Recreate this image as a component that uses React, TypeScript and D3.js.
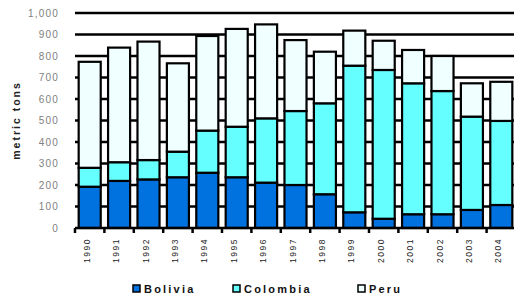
import { useEffect, useRef } from 'react'
import * as d3 from 'd3'

const years = ['1990', '1991', '1992', '1993', '1994', '1995', '1996', '1997', '1998', '1999', '2000', '2001', '2002', '2003', '2004']
const bolivia = [192, 219, 226, 236, 257, 236, 211, 200, 157, 73, 43, 64, 64, 84, 107]
const colombia = [88, 87, 90, 119, 196, 235, 299, 344, 423, 682, 692, 609, 573, 434, 391]
const peru = [493, 533, 551, 411, 440, 455, 437, 330, 240, 163, 136, 155, 163, 155, 182]
const yTicks = [0, 100, 200, 300, 400, 500, 600, 700, 800, 900, 1000]
const seriesNames = ['Bolivia', 'Colombia', 'Peru']
const seriesColors = ['#0072e0', '#66ffff', '#f0ffff']

export default function App() {
  const svgRef = useRef<SVGSVGElement>(null)

  useEffect(() => {
    if (!svgRef.current) return
    const svg = d3.select(svgRef.current)
    svg.selectAll('*').remove()

    const left = 75
    const right = 516
    const top = 13
    const bottom = 228

    const rows = years.map((y, i) => ({ year: y, Bolivia: bolivia[i], Colombia: colombia[i], Peru: peru[i] }))

    const x = d3.scaleBand().domain(years).range([left, right]).paddingInner(0.25).paddingOuter(0.125)
    const y = d3.scaleLinear().domain([0, 1000]).range([bottom, top])
    const color = d3.scaleOrdinal<string>().domain(seriesNames).range(seriesColors)

    // grid lines (behind bars)
    svg.append('g')
      .selectAll('line')
      .data(yTicks.filter(d => d > 0))
      .enter().append('line')
      .attr('x1', left)
      .attr('x2', 514)
      .attr('y1', d => y(d))
      .attr('y2', d => y(d))
      .attr('stroke', '#000')
      .attr('stroke-width', 2.5)

    // y tick labels
    svg.append('g')
      .selectAll('text')
      .data(yTicks)
      .enter().append('text')
      .attr('x', 59)
      .attr('y', d => y(d) + 3.5)
      .attr('text-anchor', 'end')
      .style('font-family', 'Arial, "Liberation Sans", sans-serif')
      .style('font-size', '10px')
      .style('letter-spacing', '1.2px')
      .style('fill', '#808080')
      .text(d => d3.format(',')(d))

    // y axis title
    svg.append('text')
      .attr('transform', `translate(20,${(bottom + top) / 2}) rotate(-90)`)
      .attr('text-anchor', 'middle')
      .style('font-family', 'Arial, "Liberation Sans", sans-serif')
      .style('font-size', '10.5px')
      .style('font-weight', 'bold')
      .style('letter-spacing', '2px')
      .style('fill', '#222')
      .text('metric tons')

    // stacked bars
    const stacked = d3.stack<any>().keys(seriesNames)(rows)
    svg.append('g')
      .selectAll('g')
      .data(stacked)
      .enter().append('g')
      .attr('fill', d => color(d.key))
      .selectAll('rect')
      .data(d => d)
      .enter().append('rect')
      .attr('x', d => x(d.data.year)!)
      .attr('width', x.bandwidth())
      .attr('y', d => y(d[1]))
      .attr('height', d => y(d[0]) - y(d[1]))
      .attr('stroke', '#000')
      .attr('stroke-width', 2.2)

    // x axis line and ticks at category boundaries
    svg.append('line')
      .attr('x1', left)
      .attr('x2', 514)
      .attr('y1', bottom)
      .attr('y2', bottom)
      .attr('stroke', '#000')
      .attr('stroke-width', 2.5)

    const step = x.step()
    svg.append('g')
      .selectAll('line')
      .data(d3.range(years.length + 1))
      .enter().append('line')
      .attr('x1', i => left + i * step)
      .attr('x2', i => left + i * step)
      .attr('y1', bottom)
      .attr('y2', bottom + 5)
      .attr('stroke', '#000')
      .attr('stroke-width', 2.5)

    // x labels rotated
    svg.append('g')
      .selectAll('text')
      .data(years)
      .enter().append('text')
      .attr('transform', d => `translate(${x(d)! + x.bandwidth() / 2},238) rotate(-90)`)
      .attr('text-anchor', 'end')
      .style('font-family', 'Arial, "Liberation Sans", sans-serif')
      .style('font-size', '8.5px')
      .style('letter-spacing', '1.5px')
      .style('fill', '#222')
      .text(d => d)

    // legend
    const legendItems = [
      { name: 'Bolivia', x: 133 },
      { name: 'Colombia', x: 233 },
      { name: 'Peru', x: 358 },
    ]
    const lg = svg.append('g')
    lg.selectAll('rect')
      .data(legendItems)
      .enter().append('rect')
      .attr('x', d => d.x)
      .attr('y', 285)
      .attr('width', 7)
      .attr('height', 7)
      .attr('fill', d => color(d.name))
      .attr('stroke', '#000')
      .attr('stroke-width', 1.5)
    lg.selectAll('text')
      .data(legendItems)
      .enter().append('text')
      .attr('x', d => d.x + 11)
      .attr('y', 293)
      .style('font-family', 'Arial, "Liberation Sans", sans-serif')
      .style('font-size', '11px')
      .style('font-weight', 'bold')
      .style('letter-spacing', '2.2px')
      .style('fill', '#111')
      .text(d => d.name)
  }, [])

  return (
    <svg
      ref={svgRef}
      width={514}
      height={299}
      style={{ position: 'absolute', left: 0, top: 0, background: '#fff' }}
    ></svg>
  )
}
